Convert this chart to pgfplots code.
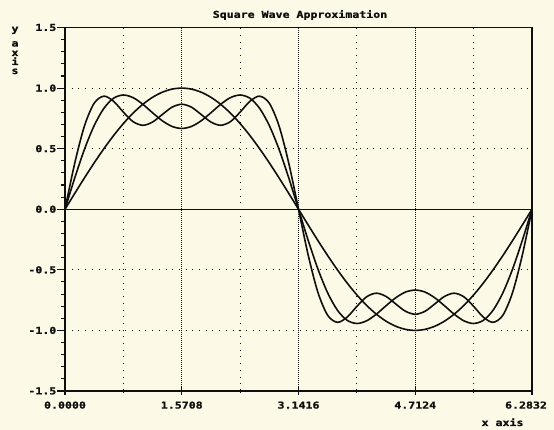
\documentclass[border=0pt]{standalone}
\usepackage{fontspec}
\usepackage{pgfplots}
\usepackage{pgfplotstable}
\pgfplotsset{compat=1.18}
\newfontfamily\dotfont{DejaVu Sans Mono}[FakeStretch=1.22, BoldFeatures={FakeBold=1.2}]
\newcommand{\dotf}{\dotfont\bfseries\fontsize{9.5}{10}\selectfont}
\definecolor{bgc}{RGB}{252,249,230}
\definecolor{ink}{RGB}{15,15,15}

\pgfplotstableread{
x a b c
0.0000 0 0 0
0.1309 0.1305 0.2581 0.3798
0.2618 0.2588 0.4945 0.6877
0.3927 0.3827 0.6906 0.8754
0.5236 0.5000 0.8333 0.9333
0.6545 0.6088 0.9167 0.8906
0.7854 0.7071 0.9428 0.8014
0.9163 0.7934 0.9209 0.7226
1.0472 0.8660 0.8660 0.6928
1.1781 0.9239 0.7963 0.7198
1.3090 0.9659 0.7302 0.7820
1.4399 0.9914 0.6835 0.8422
1.5708 1.0000 0.6667 0.8667
1.7017 0.9914 0.6835 0.8422
1.8326 0.9659 0.7302 0.7820
1.9635 0.9239 0.7963 0.7198
2.0944 0.8660 0.8660 0.6928
2.2253 0.7934 0.9209 0.7226
2.3562 0.7071 0.9428 0.8014
2.4871 0.6088 0.9167 0.8906
2.6180 0.5000 0.8333 0.9333
2.7489 0.3827 0.6906 0.8754
2.8798 0.2588 0.4945 0.6877
3.0107 0.1305 0.2581 0.3798
3.1416 0 0 0
3.2725 -0.1305 -0.2581 -0.3798
3.4034 -0.2588 -0.4945 -0.6877
3.5343 -0.3827 -0.6906 -0.8754
3.6652 -0.5000 -0.8333 -0.9333
3.7961 -0.6088 -0.9167 -0.8906
3.9270 -0.7071 -0.9428 -0.8014
4.0579 -0.7934 -0.9209 -0.7226
4.1888 -0.8660 -0.8660 -0.6928
4.3197 -0.9239 -0.7963 -0.7198
4.4506 -0.9659 -0.7302 -0.7820
4.5815 -0.9914 -0.6835 -0.8422
4.7124 -1.0000 -0.6667 -0.8667
4.8433 -0.9914 -0.6835 -0.8422
4.9742 -0.9659 -0.7302 -0.7820
5.1051 -0.9239 -0.7963 -0.7198
5.2360 -0.8660 -0.8660 -0.6928
5.3669 -0.7934 -0.9209 -0.7226
5.4978 -0.7071 -0.9428 -0.8014
5.6287 -0.6088 -0.9167 -0.8906
5.7596 -0.5000 -0.8333 -0.9333
5.8905 -0.3827 -0.6906 -0.8754
6.0214 -0.2588 -0.4945 -0.6877
6.1523 -0.1305 -0.2581 -0.3798
6.2832 0 0 0
}\sqdata

\begin{document}
\begin{tikzpicture}
\fill[bgc] (0pt,0pt) rectangle (554pt,430pt);
\begin{axis}[
  at={(65pt,39pt)}, anchor=south west,
  scale only axis, width=467pt, height=363.5pt,
  xmin=0, xmax=6.2832, ymin=-1.5, ymax=1.5,
  axis line style={ink, line width=1.3pt},
  xtick={0,1.5708,3.1416,4.7124},
  xticklabels={0.0000,1.5708,3.1416,4.7124},
  extra x ticks={6.2832},
  extra x tick labels={6.2832},
  extra x tick style={xticklabel style={xshift=-6pt}},
  minor xtick={0.7854,2.3562,3.9270,5.4978},
  ytick={-1.5,-1,-0.5,0,0.5,1,1.5},
  yticklabels={-1.5,-1.0,-0.5,0.0,0.5,1.0,1.5},
  minor y tick num=4,
  tick pos=left,
  xtick align=center, ytick align=outside,
  major tick length=8pt, minor tick length=4.5pt,
  tick style={ink, line width=1.1pt},
  xmajorgrids, xminorgrids,
  major grid style={ink, line width=0.7pt, dash pattern=on 0.7pt off 1.3pt},
  minor grid style={ink, line width=1pt, dash pattern=on 1pt off 5.7pt},
  extra y ticks={-1,-0.5,0.5,1},
  extra y tick labels={},
  extra y tick style={ymajorgrids=true, major tick length=0pt,
    major grid style={ink, line width=1pt, dash pattern=on 1pt off 5.7pt}},
  tick label style={font=\dotf, text=ink},
  xticklabel style={yshift=-3pt},
  yticklabel style={inner sep=0.5pt},
  clip=true,
]
\addplot[ink, line width=1.1pt] coordinates {(0,0) (6.2832,0)};
\addplot[ink, line width=1.6pt, smooth, line join=round] table[x=x, y=a] {\sqdata};
\addplot[ink, line width=1.6pt, smooth, line join=round] table[x=x, y=b] {\sqdata};
\addplot[ink, line width=1.6pt, smooth, line join=round] table[x=x, y=c] {\sqdata};
\end{axis}
\node[font=\dotf, text=ink] at (300pt,415pt) {Square Wave Approximation};
\node[font=\dotf, text=ink, anchor=base east] at (527pt,4pt) {x axis};
\node[font=\dotf, text=ink, anchor=base] at (15pt,398pt) {y};
\node[font=\dotf, text=ink, anchor=base] at (15pt,383.5pt) {a};
\node[font=\dotf, text=ink, anchor=base] at (15pt,374pt) {x};
\node[font=\dotf, text=ink, anchor=base] at (15pt,365pt) {i};
\node[font=\dotf, text=ink, anchor=base] at (15pt,356pt) {s};
\end{tikzpicture}
\end{document}
